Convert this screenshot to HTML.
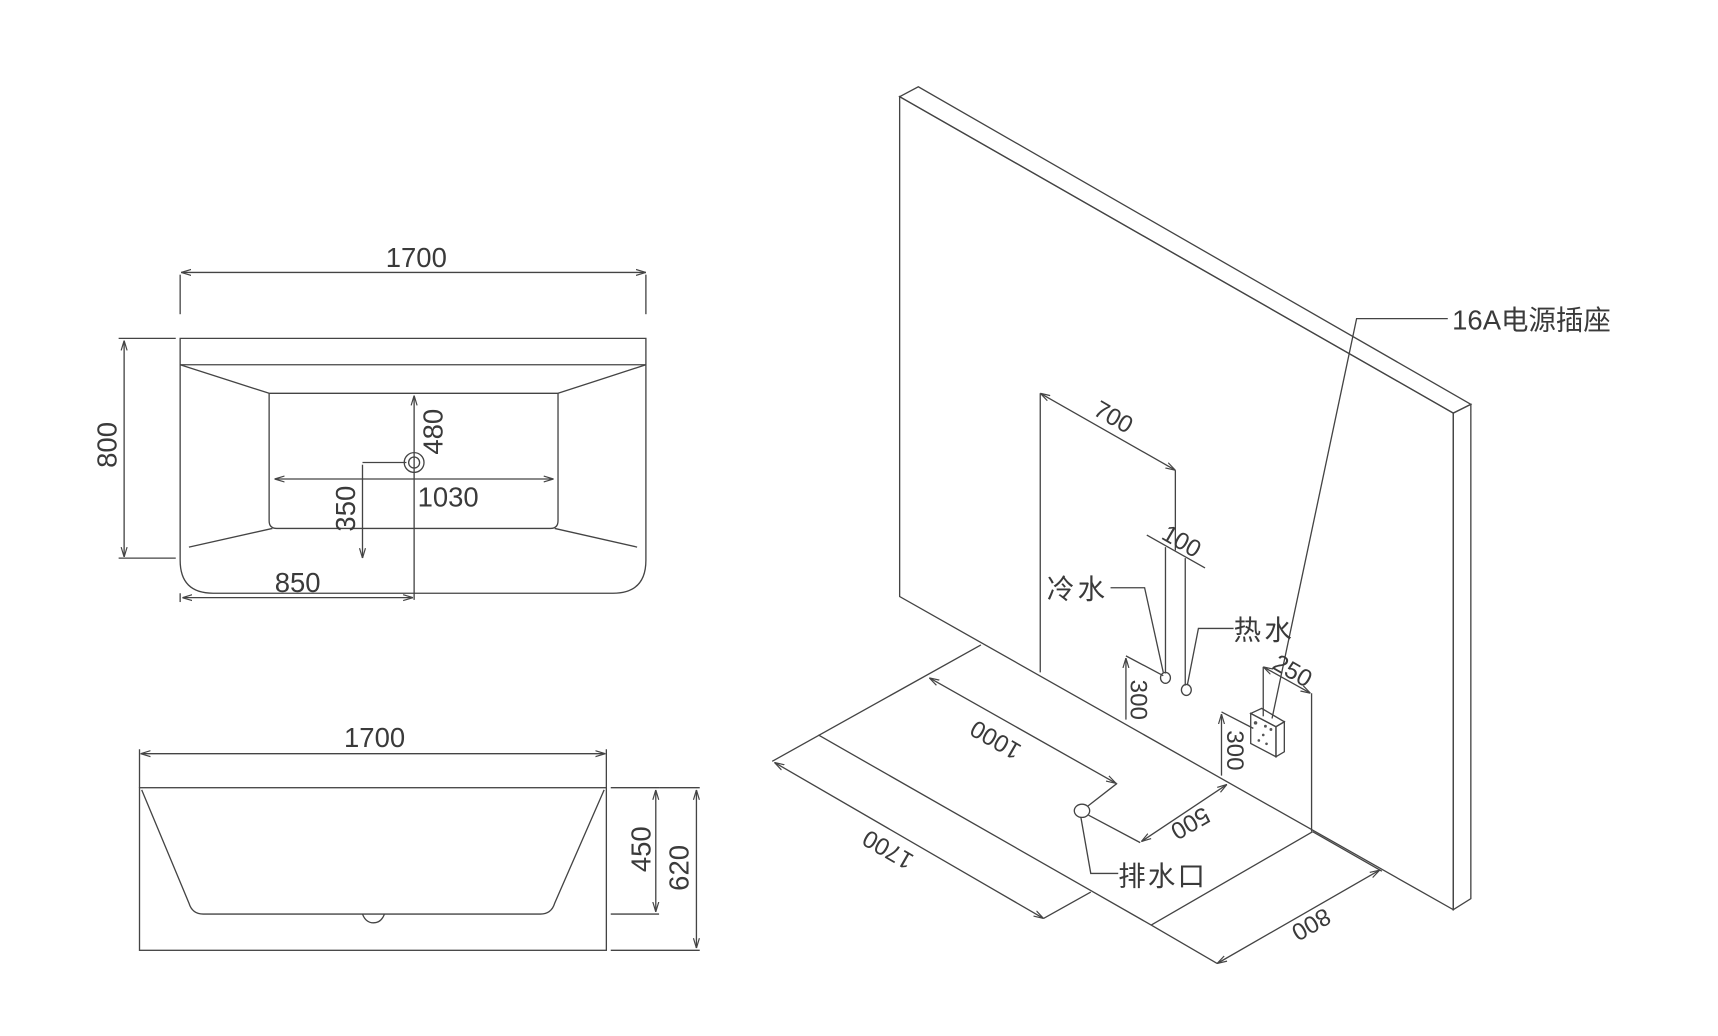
<!DOCTYPE html>
<html><head><meta charset="utf-8"><style>
html,body{margin:0;padding:0;background:#fff;}
svg{display:block;}
text{font-family:"Liberation Sans","Noto Sans CJK SC",sans-serif;fill:#3a3a3a;}
</style></head><body>
<svg width="1718" height="1036" viewBox="0 0 1564 943" preserveAspectRatio="none" xmlns="http://www.w3.org/2000/svg">
<defs>
<marker id="a" viewBox="0 0 10 10" refX="10" refY="5" markerWidth="9" markerHeight="9" orient="auto-start-reverse" markerUnits="userSpaceOnUse"><path d="M0,2 L10,5 L0,8" fill="none" stroke="#444" stroke-width="1.2"/></marker>
</defs>
<g fill="none" stroke="#444" stroke-width="1.2">
<line x1="165" y1="248" x2="588" y2="248" marker-start="url(#a)" marker-end="url(#a)"/>
<line x1="164" y1="250" x2="164" y2="286"/><line x1="588" y1="250" x2="588" y2="286"/>
<path d="M164,308 H588 V510 Q588,540 558,540 H194 Q164,540 164,510 Z"/>
<line x1="164" y1="332" x2="588" y2="332"/>
<path d="M245,358 H508 V474 Q508,481 501,481 H252 Q245,481 245,474 Z"/>
<line x1="164" y1="332" x2="245" y2="358"/><line x1="588" y1="332" x2="508" y2="358"/>
<line x1="172" y1="498" x2="248" y2="481"/><line x1="580" y1="498" x2="505" y2="481"/>
<line x1="113" y1="310" x2="113" y2="507" marker-start="url(#a)" marker-end="url(#a)"/>
<line x1="108" y1="308" x2="160" y2="308"/><line x1="108" y1="508" x2="160" y2="508"/>
<circle cx="377" cy="421" r="9"/><circle cx="377" cy="421" r="5"/>
<line x1="377" y1="360" x2="377" y2="546" marker-start="url(#a)"/>
<line x1="250" y1="436" x2="504" y2="436" marker-start="url(#a)" marker-end="url(#a)"/>
<line x1="330" y1="423" x2="330" y2="508" marker-end="url(#a)"/>
<line x1="330" y1="421" x2="370" y2="421"/>
<line x1="166" y1="544" x2="376" y2="544" marker-start="url(#a)" marker-end="url(#a)"/>
<line x1="164" y1="540" x2="164" y2="548"/>
<line x1="128" y1="686" x2="551" y2="686" marker-start="url(#a)" marker-end="url(#a)"/>
<line x1="127" y1="682" x2="127" y2="717"/><line x1="552" y1="682" x2="552" y2="717"/>
<rect x="127" y="717" width="425" height="148"/>
<path d="M129,719 L172,822 Q175,832 185,832 H492 Q502,832 505,822 L550,719"/>
<path d="M330,832 Q333,840 340,840 Q347,840 350,832"/>
<line x1="597" y1="719" x2="597" y2="830" marker-start="url(#a)" marker-end="url(#a)"/>
<line x1="556" y1="717" x2="600" y2="717"/><line x1="556" y1="832" x2="600" y2="832"/>
<line x1="634" y1="719" x2="634" y2="863" marker-start="url(#a)" marker-end="url(#a)"/>
<line x1="600" y1="717" x2="637" y2="717"/><line x1="556" y1="865" x2="637" y2="865"/>
<polygon points="819,88 1323,376 1323,828 819,543"/>
<polygon points="819,88 836,79 1339,368 1323,376"/>
<polygon points="1323,376 1339,368 1339,818 1323,828"/>
<line x1="893" y1="587" x2="703" y2="693"/>
<line x1="745" y1="669" x2="1048" y2="842"/>
<line x1="705" y1="694" x2="950" y2="836" marker-start="url(#a)" marker-end="url(#a)"/>
<line x1="950" y1="836" x2="993" y2="812"/>
<line x1="1048" y1="842" x2="1195" y2="757"/>
<line x1="1048" y1="842" x2="1108" y2="877"/>
<line x1="1195" y1="757" x2="1258" y2="793"/>
<line x1="1108" y1="877" x2="1256" y2="792" marker-start="url(#a)" marker-end="url(#a)"/>
<line x1="846" y1="617" x2="1016" y2="713" marker-start="url(#a)" marker-end="url(#a)"/>
<line x1="1017" y1="713" x2="990" y2="734"/>
<ellipse cx="985" cy="738" rx="7" ry="6"/>
<line x1="991" y1="742" x2="1038" y2="767"/>
<line x1="1039" y1="766" x2="1117" y2="714" marker-start="url(#a)" marker-end="url(#a)"/>
<path d="M984,744 L993,795 H1018"/>
<line x1="947" y1="358" x2="947" y2="612"/>
<line x1="947" y1="358" x2="1070" y2="428" marker-start="url(#a)" marker-end="url(#a)"/>
<line x1="1070" y1="428" x2="1070" y2="501"/>
<line x1="1061" y1="498" x2="1061" y2="613"/>
<line x1="1079" y1="508" x2="1079" y2="624"/>
<line x1="1044" y1="487" x2="1097" y2="517"/>
<ellipse cx="1061" cy="617" rx="4.5" ry="5"/>
<ellipse cx="1080" cy="628" rx="4.5" ry="5"/>
<path d="M1011,535 H1042 L1059,612"/>
<path d="M1123,572 H1091 L1081,623"/>
<line x1="1025" y1="599" x2="1025" y2="655" marker-start="url(#a)"/>
<line x1="1025" y1="597" x2="1059" y2="615"/>
<line x1="1112" y1="650" x2="1112" y2="706" marker-start="url(#a)"/>
<line x1="1112" y1="648" x2="1141" y2="663"/>
<polygon points="1138.6,649.4 1161.6,661.5 1161.6,688.8 1138.6,676.7"/>
<polygon points="1138.6,649.4 1148.6,644.8 1169.2,657 1161.6,661.5"/>
<polygon points="1161.6,661.5 1169.2,657 1169.2,684.3 1161.6,688.8"/>
<line x1="1150" y1="607" x2="1150" y2="652"/>
<line x1="1194" y1="631" x2="1194" y2="757"/>
<line x1="1150" y1="607" x2="1193" y2="631" marker-start="url(#a)" marker-end="url(#a)"/>
<path d="M1158,654 L1235,290 H1318"/>
</g>
<g fill="#555" stroke="none">
<circle cx="1143" cy="658" r="1.6"/><circle cx="1152" cy="661" r="1.3"/><circle cx="1157" cy="664" r="1.3"/>
<circle cx="1150" cy="669" r="1.2"/><circle cx="1146" cy="674" r="1.2"/><circle cx="1153" cy="677" r="1.2"/>
</g>
<g font-size="25">
<text x="379" y="243" text-anchor="middle">1700</text>
<text transform="translate(106,405) rotate(-90)" text-anchor="middle">800</text>
<text transform="translate(403,393) rotate(-90)" text-anchor="middle">480</text>
<text x="408" y="461" text-anchor="middle">1030</text>
<text transform="translate(323,463) rotate(-90)" text-anchor="middle">350</text>
<text x="271" y="539" text-anchor="middle">850</text>
<text x="341" y="680" text-anchor="middle">1700</text>
<text transform="translate(592,773) rotate(-90)" text-anchor="middle">450</text>
<text transform="translate(627,790) rotate(-90)" text-anchor="middle">620</text>
</g>
<g font-size="22">
<text transform="translate(1010,386) rotate(30)" text-anchor="middle">700</text>
<text transform="translate(1072,499) rotate(30)" text-anchor="middle">100</text>
<text transform="translate(1173,617) rotate(30)" text-anchor="middle">250</text>
<text transform="translate(1029,637) rotate(90)" text-anchor="middle">300</text>
<text transform="translate(1117,683) rotate(90)" text-anchor="middle">300</text>
<text transform="translate(910,667) rotate(210)" text-anchor="middle">1000</text>
<text transform="translate(812,767) rotate(210)" text-anchor="middle">1700</text>
<text transform="translate(1080,743) rotate(150)" text-anchor="middle">500</text>
<text transform="translate(1190,835) rotate(150)" text-anchor="middle">800</text>
</g>
<g font-size="25">
<text x="953" y="545" letter-spacing="3">冷水</text>
<text x="1123" y="582" letter-spacing="3">热水</text>
<text x="1018" y="806" letter-spacing="2">排水口</text>
<text x="1322" y="300">16A电源插座</text>
</g>
</svg>
</body></html>
